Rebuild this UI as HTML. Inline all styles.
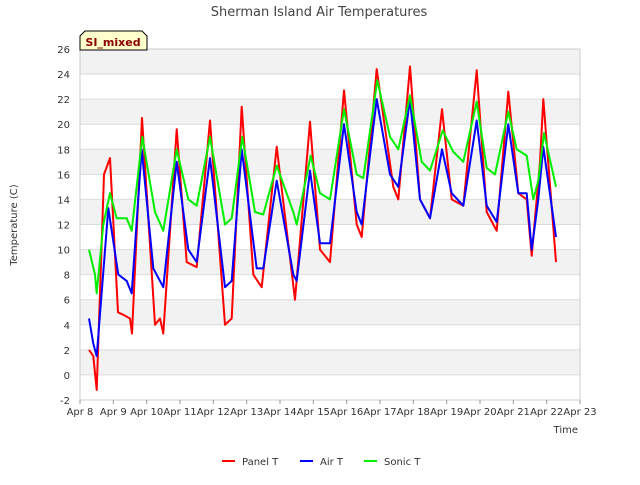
<!DOCTYPE html>
<html><head><meta charset="utf-8"><style>
body{margin:0;background:#fff;font-family:"Liberation Sans","DejaVu Sans",sans-serif}
</style></head><body>
<svg id="chart" width="640" height="480" xmlns="http://www.w3.org/2000/svg">
<rect width="640" height="480" fill="#fff"/>
<text x="319" y="16" text-anchor="middle" font-size="13" fill="#444" font-family="DejaVu Sans, sans-serif">Sherman Island Air Temperatures</text>
<g id="grid"></g>
<g id="series"></g>
<g id="axes" font-family="DejaVu Sans, sans-serif" font-size="10" fill="#333"></g>
<g>
<path d="M80,50 L80,36 L85,31 L142,31 L147,36 L147,50 Z" fill="#ffffcc" stroke="#000" stroke-width="1"/>
<text x="113" y="46" text-anchor="middle" font-size="11" font-weight="bold" fill="#8b0000" font-family="DejaVu Sans, sans-serif">SI_mixed</text>
</g>
<text x="17" y="225" transform="rotate(-90 17 225)" text-anchor="middle" font-size="10" fill="#333" font-family="DejaVu Sans, sans-serif">Temperature (C)</text>
<text x="578" y="433" text-anchor="end" font-size="10" fill="#333" font-family="DejaVu Sans, sans-serif">Time</text>
<g id="legend" font-family="DejaVu Sans, sans-serif" font-size="10" fill="#333"></g>
</svg>
<script>
const xTickLabels=["Apr 8","Apr 9","Apr 10","Apr 11","Apr 12","Apr 13","Apr 14","Apr 15","Apr 16","Apr 17","Apr 18","Apr 19","Apr 20","Apr 21","Apr 22","Apr 23"];
const yTicks=[-2,0,2,4,6,8,10,12,14,16,18,20,22,24,26];
const panelTimes=[8.27,8.4,8.5,8.72,8.9,9.14,9.3,9.5,9.56,9.86,10.25,10.4,10.5,10.9,11.2,11.5,11.9,12.35,12.55,12.85,13.2,13.45,13.9,14.45,14.9,15.2,15.5,15.92,16.3,16.45,16.9,17.4,17.55,17.9,18.2,18.5,18.86,19.15,19.5,19.9,20.2,20.5,20.85,21.15,21.4,21.55,21.8,21.9,22.28];
const panelT=[2,1.5,-1.2,16,17.3,5,4.8,4.5,3.3,20.5,4,4.5,3.3,19.6,9,8.6,20.3,4,4.5,21.4,8,7,18.2,6,20.2,10,9,22.7,12,11,24.4,15,14,24.6,14,12.5,21.2,14,13.5,24.3,13,11.5,22.6,14.5,14,9.5,17,22,9];
const airTimes=[8.27,8.4,8.5,8.85,9.15,9.4,9.55,9.85,10.2,10.5,10.9,11.25,11.5,11.9,12.35,12.55,12.85,13.3,13.5,13.9,14.4,14.5,14.9,15.2,15.5,15.92,16.3,16.45,16.9,17.3,17.55,17.9,18.2,18.5,18.86,19.15,19.5,19.9,20.2,20.5,20.85,21.15,21.4,21.55,21.75,21.9,22.28];
const airT=[4.5,2.5,1.5,13.3,8,7.5,6.5,18,8.5,7,17,10,9,17.3,7,7.5,18,8.5,8.5,15.5,8,7.5,16.3,10.5,10.5,20,13,12,22,16,15,22,14,12.5,18,14.5,13.5,20.3,13.5,12.2,20,14.5,14.5,10,14,18.2,11];
const sonicTimes=[8.27,8.45,8.5,8.7,8.9,9.1,9.4,9.55,9.87,10.25,10.5,10.9,11.25,11.5,11.9,12.35,12.55,12.87,13.25,13.5,13.9,14.4,14.5,14.92,15.2,15.5,15.92,16.3,16.5,16.92,17.3,17.55,17.9,18.25,18.5,18.88,19.2,19.5,19.9,20.2,20.45,20.85,21.1,21.4,21.6,21.75,21.92,22.28];
const sonicT=[10,8,6.5,12,14.5,12.5,12.5,11.5,19,13,11.5,18,14,13.5,19,12,12.5,19,13,12.8,16.7,13,12,17.5,14.5,14,21.2,16,15.7,23.5,19,18,22.3,17,16.3,19.5,17.8,17,21.8,16.5,16,21,18,17.5,14,15.5,19.3,15];
const NS="http://www.w3.org/2000/svg";
const X0=80,X1=580,Y0=400,Y1=49;
function xs(d){return X0+(d-8)/15*(X1-X0);}
function ys(v){return Y0-(v+2)/28*(Y0-Y1);}
const grid=document.getElementById('grid'),axes=document.getElementById('axes'),series=document.getElementById('series'),legend=document.getElementById('legend');
function mk(tag,attrs,parent){const e=document.createElementNS(NS,tag);for(const k in attrs)e.setAttribute(k,attrs[k]);parent.appendChild(e);return e;}
for(let i=0;i<yTicks.length-1;i++){
  const r=mk('rect',{x:X0,y:ys(yTicks[i+1]),width:X1-X0,height:ys(yTicks[i])-ys(yTicks[i+1]),fill:i%2===1?'#f2f2f2':'#ffffff'},grid);
  
  
}
yTicks.forEach(v=>{
  const l=mk('line',{x1:X0,x2:X1,y1:ys(v),y2:ys(v),stroke:'#dcdcdc','stroke-width':1},grid);
  
  
  const t=mk('text',{x:X0-10,y:ys(v)+4,'text-anchor':'end'},axes);t.textContent=v;
  
  
});
const fr=mk('rect',{x:X0,y:Y1,width:X1-X0,height:Y0-Y1,fill:'none',stroke:'#ccc'},grid);


xTickLabels.forEach((s,i)=>{
  const x=xs(8+i);
  mk('line',{x1:x,x2:x,y1:Y0,y2:Y0+4,stroke:'#999'},axes);
  const t=mk('text',{x:x,y:Y0+15,'text-anchor':'middle'},axes);t.textContent=s;
  
  
});
function line(times,vals,color,name){
  const p=mk('polyline',{points:times.map((t,i)=>xs(t).toFixed(1)+','+ys(vals[i]).toFixed(1)).join(' '),fill:'none',stroke:color,'stroke-width':2,'stroke-linejoin':'round'},series);
  
  
}
line(panelTimes,panelT,'#ff0000','panel-t-line');
line(airTimes,airT,'#0000ff','air-t-line');
line(sonicTimes,sonicT,'#00ee00','sonic-t-line');
const legendItems=[["Panel T","#ff0000",222],["Air T","#0000ff",300],["Sonic T","#00ee00",364]];
legendItems.forEach(it=>{
  const g=mk('g',{},legend);
  
  
  mk('line',{x1:it[2],x2:it[2]+13,y1:461,y2:461,stroke:it[1],'stroke-width':2},g);
  const t=mk('text',{x:it[2]+20,y:465},g);t.textContent=it[0];
});
</script>
</body></html>
